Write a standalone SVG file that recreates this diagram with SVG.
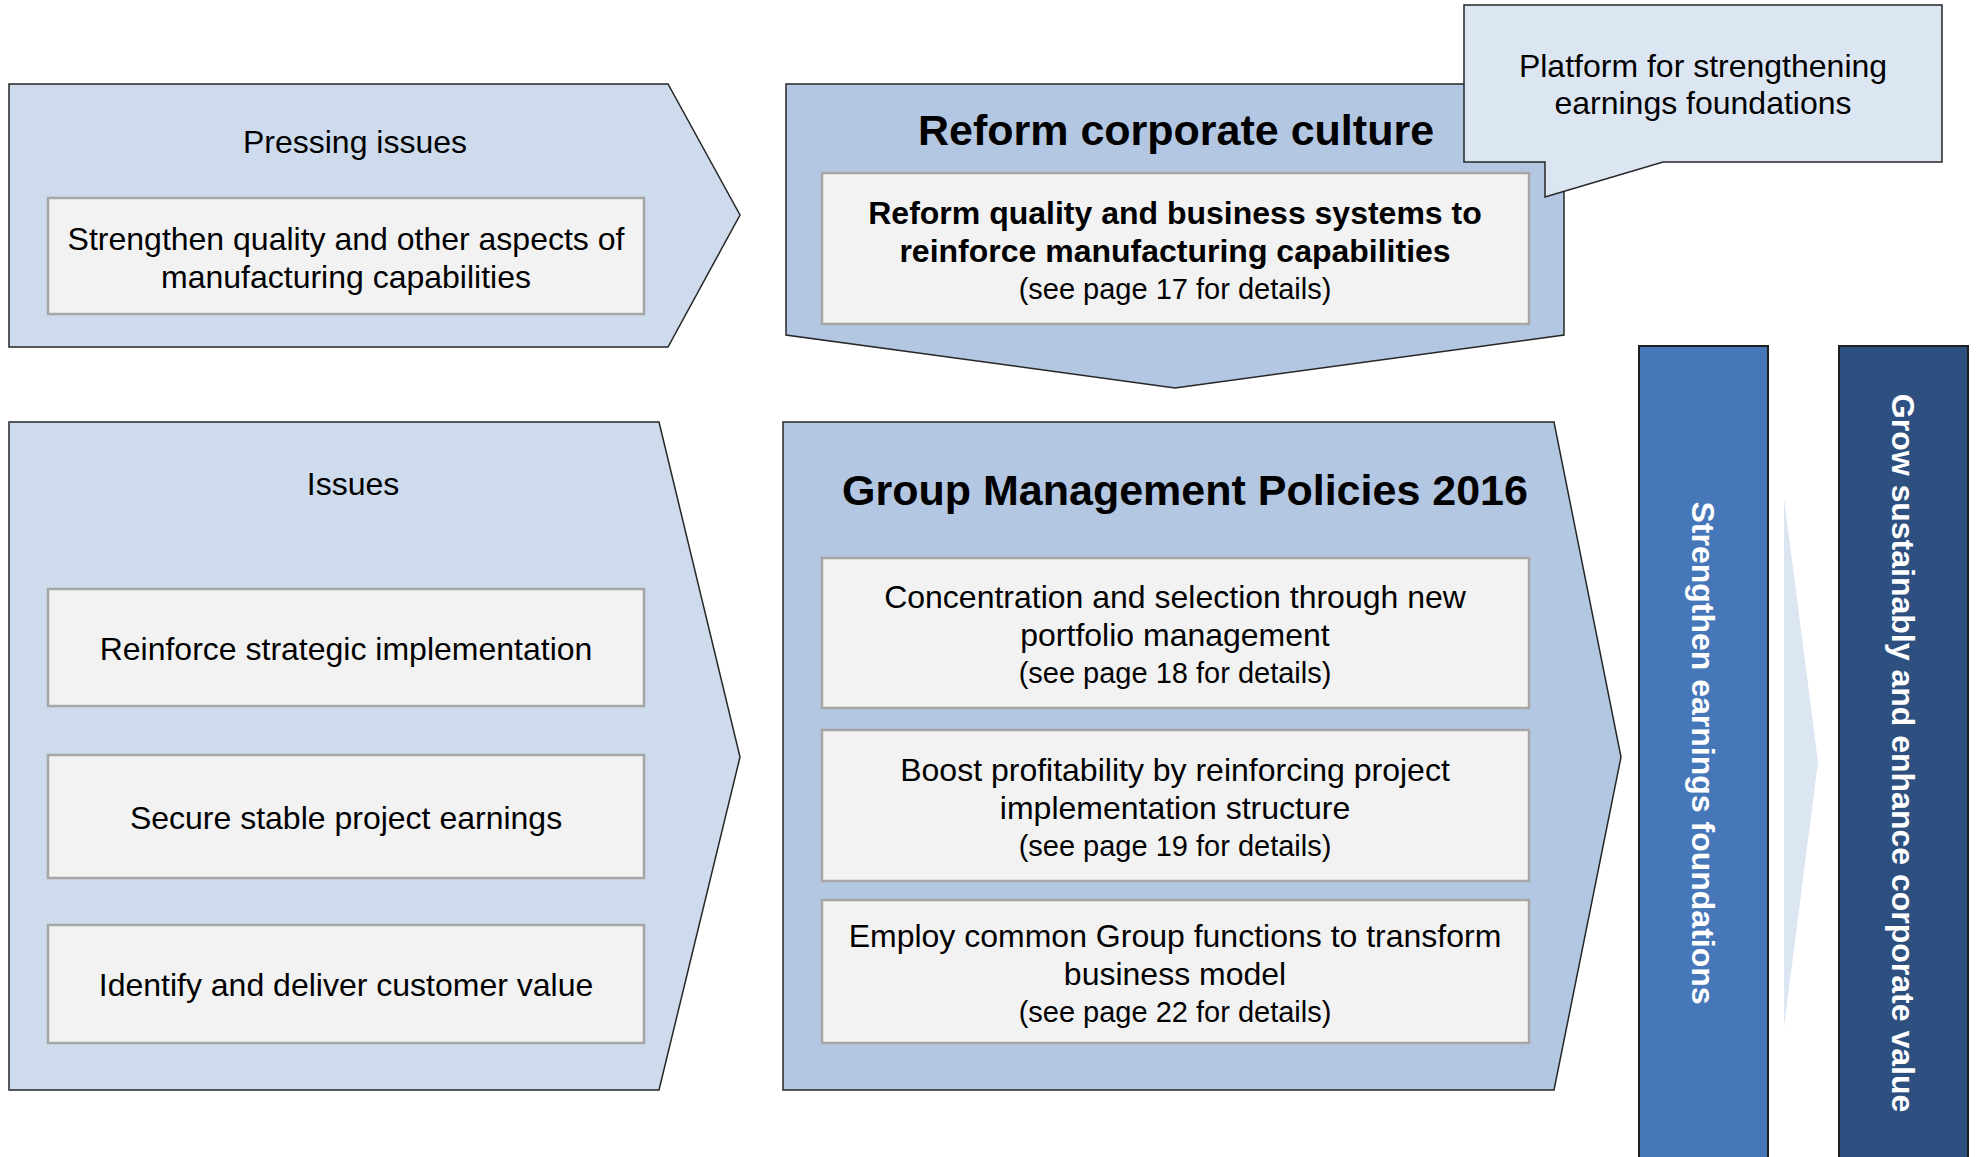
<svg xmlns="http://www.w3.org/2000/svg" width="1976" height="1157" viewBox="0 0 1976 1157">
  <style>
    .light { fill: #cddbec; stroke: #262626; stroke-width: 1.5; }
    .mid { fill: #b4c7e2; stroke: #262626; stroke-width: 1.5; }
    .box { fill: #f2f2f2; stroke: #a6a6a6; stroke-width: 2.5; }
    .t { font-family: "Liberation Sans", Arial, sans-serif; font-size: 32px; fill: #000; text-anchor: middle; }
    .s { font-family: "Liberation Sans", Arial, sans-serif; font-size: 29px; fill: #000; text-anchor: middle; }
    .b { font-weight: bold; }
    .title { font-family: "Liberation Sans", Arial, sans-serif; font-size: 43px; font-weight: bold; fill: #000; text-anchor: middle; }
    .vt { font-family: "Liberation Sans", Arial, sans-serif; font-size: 32px; font-weight: bold; fill: #fff; text-anchor: middle; }
  </style>
  <rect width="1976" height="1157" fill="#ffffff"/>

  <g id="pressing-issues">
    <polygon class="light" points="9,84 668,84 740,215 668,347 9,347"/>
    <text class="t" x="355" y="153">Pressing issues</text>
    <rect class="box" x="48" y="198" width="596" height="116"/>
    <text class="t" x="346" y="250">Strengthen quality and other aspects of</text>
    <text class="t" x="346" y="288">manufacturing capabilities</text>
  </g>

  <g id="issues">
    <polygon class="light" points="9,422 659,422 740,757 659,1090 9,1090"/>
    <text class="t" x="353" y="495">Issues</text>
    <rect class="box" x="48" y="589" width="596" height="117"/>
    <text class="t" x="346" y="660">Reinforce strategic implementation</text>
    <rect class="box" x="48" y="755" width="596" height="123"/>
    <text class="t" x="346" y="829">Secure stable project earnings</text>
    <rect class="box" x="48" y="925" width="596" height="118"/>
    <text class="t" x="346" y="996">Identify and deliver customer value</text>
  </g>

  <g id="reform-corporate-culture">
    <polygon class="mid" points="786,84 1564,84 1564,335 1175,388 786,335"/>
    <text class="title" x="1176" y="145">Reform corporate culture</text>
    <rect class="box" x="822" y="173" width="707" height="151"/>
    <text class="t b" x="1175" y="224">Reform quality and business systems to</text>
    <text class="t b" x="1175" y="262">reinforce manufacturing capabilities</text>
    <text class="s" x="1175" y="299">(see page 17 for details)</text>
  </g>

  <g id="platform-callout">
    <polygon fill="#dce6f2" stroke="#262626" stroke-width="1.5" points="1464,5 1942,5 1942,162 1663,162 1545,197 1545,162 1464,162"/>
    <text class="t" x="1703" y="77">Platform for strengthening</text>
    <text class="t" x="1703" y="114">earnings foundations</text>
  </g>

  <g id="group-management-policies">
    <polygon class="mid" points="783,422 1554,422 1621,757 1554,1090 783,1090"/>
    <text class="title" x="1185" y="505">Group Management Policies 2016</text>
    <rect class="box" x="822" y="558" width="707" height="150"/>
    <text class="t" x="1175" y="608">Concentration and selection through new</text>
    <text class="t" x="1175" y="646">portfolio management</text>
    <text class="s" x="1175" y="683">(see page 18 for details)</text>
    <rect class="box" x="822" y="730" width="707" height="151"/>
    <text class="t" x="1175" y="781">Boost profitability by reinforcing project</text>
    <text class="t" x="1175" y="819">implementation structure</text>
    <text class="s" x="1175" y="856">(see page 19 for details)</text>
    <rect class="box" x="822" y="900" width="707" height="143"/>
    <text class="t" x="1175" y="947">Employ common Group functions to transform</text>
    <text class="t" x="1175" y="985">business model</text>
    <text class="s" x="1175" y="1022">(see page 22 for details)</text>
  </g>

  <g id="strengthen-earnings-foundations">
    <rect x="1639" y="346" width="129" height="820" fill="#4677b9" stroke="#1f1f1f" stroke-width="2"/>
    <text class="vt" transform="translate(1692,753) rotate(90)" x="0" y="0">Strengthen earnings foundations</text>
  </g>

  <g id="grow-sustainably">
    <rect x="1839" y="346" width="129" height="820" fill="#2e5080" stroke="#1f1f1f" stroke-width="2"/>
    <text class="vt" transform="translate(1892,753) rotate(90)" x="0" y="0">Grow sustainably and enhance corporate value</text>
  </g>

  <g id="connectors">
    <polygon fill="#dce6f2" points="1784,498 1818,762 1784,1027"/>
  </g>
</svg>
